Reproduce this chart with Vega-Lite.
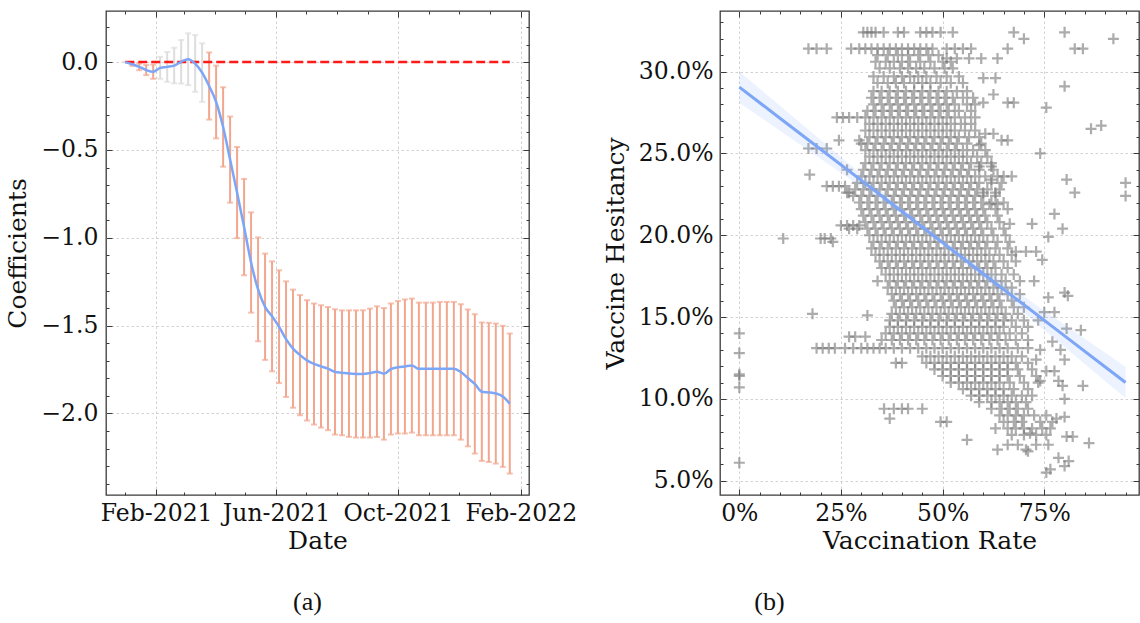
{
"$schema": "https://vega.github.io/schema/vega-lite/v6.json",
"background": "white",
"padding": {"left": 5, "top": 9, "right": 0, "bottom": 0},
"bounds": "flush",
"spacing": 191,
"config": {
  "view": {"stroke": "#3a3a3a", "strokeWidth": 1.3},
  "axis": {"labelFont": "DejaVu Serif", "labelFontSize": 23.5, "titleFont": "DejaVu Serif", "titleFontSize": 25, "titleFontWeight": "normal", "labelColor": "#111", "titleColor": "#111", "tickColor": "#3a3a3a", "tickWidth": 1, "domain": false, "gridColor": "#cccccc", "gridDash": [2.5, 2.5], "gridWidth": 0.9, "labelOverlap": false, "labelFlush": false, "labelBound": false}
},
"resolve": {"scale": {"x": "independent", "y": "independent"}},
"datasets": {
"coef": [
{"date":"2021-01-01","c":0,"lo":0,"hi":0,"sig":0},
{"date":"2021-01-08","c":-0.012,"lo":-0.021,"hi":-0.003,"sig":1},
{"date":"2021-01-15","c":-0.027,"lo":-0.046,"hi":-0.008,"sig":1},
{"date":"2021-01-22","c":-0.045,"lo":-0.074,"hi":-0.016,"sig":1},
{"date":"2021-01-29","c":-0.055,"lo":-0.095,"hi":-0.014,"sig":1},
{"date":"2021-02-05","c":-0.033,"lo":-0.095,"hi":0.030,"sig":0},
{"date":"2021-02-12","c":-0.027,"lo":-0.112,"hi":0.058,"sig":0},
{"date":"2021-02-19","c":-0.020,"lo":-0.121,"hi":0.082,"sig":0},
{"date":"2021-02-26","c":0.002,"lo":-0.122,"hi":0.126,"sig":0},
{"date":"2021-03-05","c":0.017,"lo":-0.131,"hi":0.164,"sig":0},
{"date":"2021-03-12","c":-0.008,"lo":-0.169,"hi":0.154,"sig":0},
{"date":"2021-03-19","c":-0.060,"lo":-0.226,"hi":0.107,"sig":0},
{"date":"2021-03-26","c":-0.136,"lo":-0.327,"hi":0.055,"sig":1},
{"date":"2021-04-02","c":-0.227,"lo":-0.434,"hi":-0.020,"sig":1},
{"date":"2021-04-09","c":-0.369,"lo":-0.595,"hi":-0.143,"sig":1},
{"date":"2021-04-16","c":-0.555,"lo":-0.800,"hi":-0.310,"sig":1},
{"date":"2021-04-23","c":-0.743,"lo":-1.002,"hi":-0.483,"sig":1},
{"date":"2021-04-30","c":-0.939,"lo":-1.213,"hi":-0.665,"sig":1},
{"date":"2021-05-07","c":-1.140,"lo":-1.426,"hi":-0.855,"sig":1},
{"date":"2021-05-14","c":-1.294,"lo":-1.589,"hi":-0.998,"sig":1},
{"date":"2021-05-21","c":-1.393,"lo":-1.695,"hi":-1.090,"sig":1},
{"date":"2021-05-28","c":-1.447,"lo":-1.760,"hi":-1.134,"sig":1},
{"date":"2021-06-04","c":-1.506,"lo":-1.827,"hi":-1.185,"sig":1},
{"date":"2021-06-11","c":-1.577,"lo":-1.906,"hi":-1.248,"sig":1},
{"date":"2021-06-18","c":-1.631,"lo":-1.967,"hi":-1.295,"sig":1},
{"date":"2021-06-25","c":-1.668,"lo":-2.010,"hi":-1.326,"sig":1},
{"date":"2021-07-02","c":-1.698,"lo":-2.040,"hi":-1.355,"sig":1},
{"date":"2021-07-09","c":-1.718,"lo":-2.063,"hi":-1.374,"sig":1},
{"date":"2021-07-16","c":-1.732,"lo":-2.080,"hi":-1.384,"sig":1},
{"date":"2021-07-23","c":-1.745,"lo":-2.095,"hi":-1.394,"sig":1},
{"date":"2021-07-30","c":-1.763,"lo":-2.120,"hi":-1.407,"sig":1},
{"date":"2021-08-06","c":-1.768,"lo":-2.124,"hi":-1.413,"sig":1},
{"date":"2021-08-13","c":-1.773,"lo":-2.133,"hi":-1.413,"sig":1},
{"date":"2021-08-20","c":-1.775,"lo":-2.137,"hi":-1.413,"sig":1},
{"date":"2021-08-27","c":-1.775,"lo":-2.137,"hi":-1.413,"sig":1},
{"date":"2021-09-03","c":-1.770,"lo":-2.137,"hi":-1.403,"sig":1},
{"date":"2021-09-10","c":-1.762,"lo":-2.134,"hi":-1.390,"sig":1},
{"date":"2021-09-17","c":-1.774,"lo":-2.149,"hi":-1.400,"sig":1},
{"date":"2021-09-24","c":-1.747,"lo":-2.120,"hi":-1.374,"sig":1},
{"date":"2021-10-01","c":-1.737,"lo":-2.114,"hi":-1.360,"sig":1},
{"date":"2021-10-08","c":-1.732,"lo":-2.114,"hi":-1.351,"sig":1},
{"date":"2021-10-15","c":-1.727,"lo":-2.109,"hi":-1.346,"sig":1},
{"date":"2021-10-22","c":-1.746,"lo":-2.124,"hi":-1.369,"sig":1},
{"date":"2021-10-29","c":-1.746,"lo":-2.124,"hi":-1.369,"sig":1},
{"date":"2021-11-05","c":-1.746,"lo":-2.124,"hi":-1.369,"sig":1},
{"date":"2021-11-12","c":-1.745,"lo":-2.124,"hi":-1.365,"sig":1},
{"date":"2021-11-19","c":-1.745,"lo":-2.124,"hi":-1.365,"sig":1},
{"date":"2021-11-26","c":-1.745,"lo":-2.124,"hi":-1.365,"sig":1},
{"date":"2021-12-03","c":-1.764,"lo":-2.149,"hi":-1.378,"sig":1},
{"date":"2021-12-10","c":-1.798,"lo":-2.187,"hi":-1.408,"sig":1},
{"date":"2021-12-17","c":-1.832,"lo":-2.228,"hi":-1.435,"sig":1},
{"date":"2021-12-24","c":-1.876,"lo":-2.270,"hi":-1.482,"sig":1},
{"date":"2021-12-31","c":-1.880,"lo":-2.276,"hi":-1.484,"sig":1},
{"date":"2022-01-07","c":-1.886,"lo":-2.285,"hi":-1.488,"sig":1},
{"date":"2022-01-14","c":-1.903,"lo":-2.304,"hi":-1.501,"sig":1},
{"date":"2022-01-21","c":-1.944,"lo":-2.342,"hi":-1.545,"sig":1}
],
"zero": [{"start":"2021-01-01","end":"2022-01-21","y":0}],
"fit": [
{"r":0,"m":0.2905,"lo":0.2810,"hi":0.3000},
{"r":0.1,"m":0.2715,"lo":0.2639,"hi":0.2791},
{"r":0.2,"m":0.2525,"lo":0.2468,"hi":0.2582},
{"r":0.3,"m":0.2335,"lo":0.2296,"hi":0.2374},
{"r":0.4,"m":0.2145,"lo":0.2121,"hi":0.2169},
{"r":0.47,"m":0.2012,"lo":0.1992,"hi":0.2032},
{"r":0.5,"m":0.1955,"lo":0.1934,"hi":0.1976},
{"r":0.6,"m":0.1765,"lo":0.1732,"hi":0.1798},
{"r":0.7,"m":0.1575,"lo":0.1525,"hi":0.1625},
{"r":0.8,"m":0.1385,"lo":0.1317,"hi":0.1453},
{"r":0.9,"m":0.1195,"lo":0.1108,"hi":0.1282},
{"r":0.95,"m":0.1100,"lo":0.1005,"hi":0.1195}
],
"pts": [
{"r":0.34,"h":0.31},{"r":0.365,"h":0.31},{"r":0.39,"h":0.31},{"r":0.415,"h":0.31},{"r":0.44,"h":0.31},{"r":0.465,"h":0.31},{"r":0.49,"h":0.31},
{"r":0.335,"h":0.306},{"r":0.36,"h":0.306},{"r":0.38,"h":0.306},{"r":0.40,"h":0.306},{"r":0.42,"h":0.306},{"r":0.445,"h":0.306},{"r":0.47,"h":0.306},{"r":0.50,"h":0.306},{"r":0.52,"h":0.306},
{"r":0.345,"h":0.302},{"r":0.37,"h":0.302},{"r":0.395,"h":0.302},{"r":0.415,"h":0.302},{"r":0.435,"h":0.302},{"r":0.455,"h":0.302},{"r":0.48,"h":0.302},{"r":0.505,"h":0.302},{"r":0.525,"h":0.302},
{"r":0.33,"h":0.297},{"r":0.355,"h":0.297},{"r":0.38,"h":0.297},{"r":0.40,"h":0.297},{"r":0.42,"h":0.297},{"r":0.44,"h":0.297},{"r":0.46,"h":0.297},{"r":0.485,"h":0.297},{"r":0.51,"h":0.297},{"r":0.54,"h":0.297},
{"r":0.34,"h":0.293},{"r":0.365,"h":0.293},{"r":0.385,"h":0.293},{"r":0.405,"h":0.293},{"r":0.43,"h":0.293},{"r":0.45,"h":0.293},{"r":0.47,"h":0.293},{"r":0.495,"h":0.293},{"r":0.52,"h":0.293},{"r":0.55,"h":0.293},
{"r":0.33,"h":0.288},{"r":0.35,"h":0.288},{"r":0.37,"h":0.288},{"r":0.39,"h":0.288},{"r":0.41,"h":0.288},{"r":0.43,"h":0.288},{"r":0.45,"h":0.288},{"r":0.47,"h":0.288},{"r":0.49,"h":0.288},{"r":0.51,"h":0.288},{"r":0.535,"h":0.288},{"r":0.56,"h":0.288},
{"r":0.325,"h":0.284},{"r":0.345,"h":0.284},{"r":0.365,"h":0.284},{"r":0.385,"h":0.284},{"r":0.405,"h":0.284},{"r":0.425,"h":0.284},{"r":0.445,"h":0.284},{"r":0.465,"h":0.284},{"r":0.485,"h":0.284},{"r":0.505,"h":0.284},{"r":0.525,"h":0.284},{"r":0.55,"h":0.284},{"r":0.575,"h":0.284},
{"r":0.33,"h":0.28},{"r":0.35,"h":0.28},{"r":0.37,"h":0.28},{"r":0.39,"h":0.28},{"r":0.41,"h":0.28},{"r":0.43,"h":0.28},{"r":0.45,"h":0.28},{"r":0.47,"h":0.28},{"r":0.49,"h":0.28},{"r":0.51,"h":0.28},{"r":0.53,"h":0.28},{"r":0.56,"h":0.28},{"r":0.58,"h":0.28},
{"r":0.315,"h":0.276},{"r":0.335,"h":0.276},{"r":0.355,"h":0.276},{"r":0.375,"h":0.276},{"r":0.395,"h":0.276},{"r":0.415,"h":0.276},{"r":0.435,"h":0.276},{"r":0.455,"h":0.276},{"r":0.475,"h":0.276},{"r":0.495,"h":0.276},{"r":0.515,"h":0.276},{"r":0.54,"h":0.276},{"r":0.57,"h":0.276},
{"r":0.24,"h":0.272},{"r":0.255,"h":0.272},{"r":0.27,"h":0.272},{"r":0.29,"h":0.272},{"r":0.31,"h":0.272},{"r":0.33,"h":0.272},{"r":0.35,"h":0.272},{"r":0.37,"h":0.272},{"r":0.39,"h":0.272},{"r":0.41,"h":0.272},{"r":0.43,"h":0.272},{"r":0.45,"h":0.272},{"r":0.47,"h":0.272},{"r":0.49,"h":0.272},{"r":0.51,"h":0.272},{"r":0.53,"h":0.272},{"r":0.555,"h":0.272},{"r":0.58,"h":0.272},
{"r":0.32,"h":0.268},{"r":0.34,"h":0.268},{"r":0.36,"h":0.268},{"r":0.38,"h":0.268},{"r":0.40,"h":0.268},{"r":0.42,"h":0.268},{"r":0.44,"h":0.268},{"r":0.46,"h":0.268},{"r":0.48,"h":0.268},{"r":0.50,"h":0.268},{"r":0.52,"h":0.268},{"r":0.545,"h":0.268},{"r":0.57,"h":0.268},
{"r":0.31,"h":0.264},{"r":0.33,"h":0.264},{"r":0.35,"h":0.264},{"r":0.37,"h":0.264},{"r":0.39,"h":0.264},{"r":0.41,"h":0.264},{"r":0.43,"h":0.264},{"r":0.45,"h":0.264},{"r":0.47,"h":0.264},{"r":0.49,"h":0.264},{"r":0.51,"h":0.264},{"r":0.53,"h":0.264},{"r":0.555,"h":0.264},{"r":0.58,"h":0.264},
{"r":0.32,"h":0.26},{"r":0.34,"h":0.26},{"r":0.36,"h":0.26},{"r":0.38,"h":0.26},{"r":0.40,"h":0.26},{"r":0.42,"h":0.26},{"r":0.44,"h":0.26},{"r":0.46,"h":0.26},{"r":0.48,"h":0.26},{"r":0.50,"h":0.26},{"r":0.52,"h":0.26},{"r":0.54,"h":0.26},{"r":0.565,"h":0.26},{"r":0.59,"h":0.26},
{"r":0.30,"h":0.256},{"r":0.315,"h":0.256},{"r":0.335,"h":0.256},{"r":0.355,"h":0.256},{"r":0.375,"h":0.256},{"r":0.395,"h":0.256},{"r":0.415,"h":0.256},{"r":0.435,"h":0.256},{"r":0.455,"h":0.256},{"r":0.475,"h":0.256},{"r":0.495,"h":0.256},{"r":0.515,"h":0.256},{"r":0.535,"h":0.256},{"r":0.56,"h":0.256},{"r":0.595,"h":0.256},
{"r":0.31,"h":0.252},{"r":0.33,"h":0.252},{"r":0.35,"h":0.252},{"r":0.37,"h":0.252},{"r":0.39,"h":0.252},{"r":0.41,"h":0.252},{"r":0.43,"h":0.252},{"r":0.45,"h":0.252},{"r":0.47,"h":0.252},{"r":0.49,"h":0.252},{"r":0.51,"h":0.252},{"r":0.53,"h":0.252},{"r":0.55,"h":0.252},{"r":0.575,"h":0.252},{"r":0.605,"h":0.252},
{"r":0.32,"h":0.248},{"r":0.34,"h":0.248},{"r":0.36,"h":0.248},{"r":0.38,"h":0.248},{"r":0.40,"h":0.248},{"r":0.42,"h":0.248},{"r":0.44,"h":0.248},{"r":0.46,"h":0.248},{"r":0.48,"h":0.248},{"r":0.50,"h":0.248},{"r":0.52,"h":0.248},{"r":0.54,"h":0.248},{"r":0.56,"h":0.248},{"r":0.585,"h":0.248},{"r":0.61,"h":0.248},
{"r":0.31,"h":0.244},{"r":0.33,"h":0.244},{"r":0.35,"h":0.244},{"r":0.37,"h":0.244},{"r":0.39,"h":0.244},{"r":0.41,"h":0.244},{"r":0.43,"h":0.244},{"r":0.45,"h":0.244},{"r":0.47,"h":0.244},{"r":0.49,"h":0.244},{"r":0.51,"h":0.244},{"r":0.53,"h":0.244},{"r":0.55,"h":0.244},{"r":0.57,"h":0.244},{"r":0.595,"h":0.244},{"r":0.62,"h":0.244},
{"r":0.305,"h":0.24},{"r":0.325,"h":0.24},{"r":0.345,"h":0.24},{"r":0.365,"h":0.24},{"r":0.385,"h":0.24},{"r":0.405,"h":0.24},{"r":0.425,"h":0.24},{"r":0.445,"h":0.24},{"r":0.465,"h":0.24},{"r":0.485,"h":0.24},{"r":0.505,"h":0.24},{"r":0.525,"h":0.24},{"r":0.545,"h":0.24},{"r":0.565,"h":0.24},{"r":0.59,"h":0.24},{"r":0.625,"h":0.24},
{"r":0.30,"h":0.236},{"r":0.32,"h":0.236},{"r":0.34,"h":0.236},{"r":0.36,"h":0.236},{"r":0.38,"h":0.236},{"r":0.40,"h":0.236},{"r":0.42,"h":0.236},{"r":0.44,"h":0.236},{"r":0.46,"h":0.236},{"r":0.48,"h":0.236},{"r":0.50,"h":0.236},{"r":0.52,"h":0.236},{"r":0.54,"h":0.236},{"r":0.56,"h":0.236},{"r":0.58,"h":0.236},{"r":0.605,"h":0.236},{"r":0.635,"h":0.236},
{"r":0.29,"h":0.232},{"r":0.31,"h":0.232},{"r":0.33,"h":0.232},{"r":0.35,"h":0.232},{"r":0.37,"h":0.232},{"r":0.39,"h":0.232},{"r":0.41,"h":0.232},{"r":0.43,"h":0.232},{"r":0.45,"h":0.232},{"r":0.47,"h":0.232},{"r":0.49,"h":0.232},{"r":0.51,"h":0.232},{"r":0.53,"h":0.232},{"r":0.55,"h":0.232},{"r":0.57,"h":0.232},{"r":0.59,"h":0.232},{"r":0.62,"h":0.232},{"r":0.645,"h":0.232},
{"r":0.285,"h":0.228},{"r":0.305,"h":0.228},{"r":0.325,"h":0.228},{"r":0.345,"h":0.228},{"r":0.365,"h":0.228},{"r":0.385,"h":0.228},{"r":0.405,"h":0.228},{"r":0.425,"h":0.228},{"r":0.445,"h":0.228},{"r":0.465,"h":0.228},{"r":0.485,"h":0.228},{"r":0.505,"h":0.228},{"r":0.525,"h":0.228},{"r":0.545,"h":0.228},{"r":0.565,"h":0.228},{"r":0.585,"h":0.228},{"r":0.61,"h":0.228},{"r":0.64,"h":0.228},
{"r":0.28,"h":0.224},{"r":0.30,"h":0.224},{"r":0.32,"h":0.224},{"r":0.34,"h":0.224},{"r":0.36,"h":0.224},{"r":0.38,"h":0.224},{"r":0.40,"h":0.224},{"r":0.42,"h":0.224},{"r":0.44,"h":0.224},{"r":0.46,"h":0.224},{"r":0.48,"h":0.224},{"r":0.50,"h":0.224},{"r":0.52,"h":0.224},{"r":0.54,"h":0.224},{"r":0.56,"h":0.224},{"r":0.58,"h":0.224},{"r":0.60,"h":0.224},{"r":0.63,"h":0.224},
{"r":0.295,"h":0.22},{"r":0.315,"h":0.22},{"r":0.335,"h":0.22},{"r":0.355,"h":0.22},{"r":0.375,"h":0.22},{"r":0.395,"h":0.22},{"r":0.415,"h":0.22},{"r":0.435,"h":0.22},{"r":0.455,"h":0.22},{"r":0.475,"h":0.22},{"r":0.495,"h":0.22},{"r":0.515,"h":0.22},{"r":0.535,"h":0.22},{"r":0.555,"h":0.22},{"r":0.575,"h":0.22},{"r":0.595,"h":0.22},{"r":0.62,"h":0.22},{"r":0.65,"h":0.22},
{"r":0.30,"h":0.216},{"r":0.32,"h":0.216},{"r":0.34,"h":0.216},{"r":0.36,"h":0.216},{"r":0.38,"h":0.216},{"r":0.40,"h":0.216},{"r":0.42,"h":0.216},{"r":0.44,"h":0.216},{"r":0.46,"h":0.216},{"r":0.48,"h":0.216},{"r":0.50,"h":0.216},{"r":0.52,"h":0.216},{"r":0.54,"h":0.216},{"r":0.56,"h":0.216},{"r":0.58,"h":0.216},{"r":0.60,"h":0.216},{"r":0.63,"h":0.216},{"r":0.66,"h":0.216},
{"r":0.305,"h":0.212},{"r":0.325,"h":0.212},{"r":0.345,"h":0.212},{"r":0.365,"h":0.212},{"r":0.385,"h":0.212},{"r":0.405,"h":0.212},{"r":0.425,"h":0.212},{"r":0.445,"h":0.212},{"r":0.465,"h":0.212},{"r":0.485,"h":0.212},{"r":0.505,"h":0.212},{"r":0.525,"h":0.212},{"r":0.545,"h":0.212},{"r":0.565,"h":0.212},{"r":0.585,"h":0.212},{"r":0.605,"h":0.212},{"r":0.635,"h":0.212},
{"r":0.31,"h":0.208},{"r":0.33,"h":0.208},{"r":0.35,"h":0.208},{"r":0.37,"h":0.208},{"r":0.39,"h":0.208},{"r":0.41,"h":0.208},{"r":0.43,"h":0.208},{"r":0.45,"h":0.208},{"r":0.47,"h":0.208},{"r":0.49,"h":0.208},{"r":0.51,"h":0.208},{"r":0.53,"h":0.208},{"r":0.55,"h":0.208},{"r":0.57,"h":0.208},{"r":0.59,"h":0.208},{"r":0.61,"h":0.208},{"r":0.64,"h":0.208},
{"r":0.27,"h":0.204},{"r":0.29,"h":0.204},{"r":0.315,"h":0.204},{"r":0.335,"h":0.204},{"r":0.355,"h":0.204},{"r":0.375,"h":0.204},{"r":0.395,"h":0.204},{"r":0.415,"h":0.204},{"r":0.435,"h":0.204},{"r":0.455,"h":0.204},{"r":0.475,"h":0.204},{"r":0.495,"h":0.204},{"r":0.515,"h":0.204},{"r":0.535,"h":0.204},{"r":0.555,"h":0.204},{"r":0.575,"h":0.204},{"r":0.595,"h":0.204},{"r":0.62,"h":0.204},{"r":0.65,"h":0.204},
{"r":0.32,"h":0.2},{"r":0.34,"h":0.2},{"r":0.36,"h":0.2},{"r":0.38,"h":0.2},{"r":0.40,"h":0.2},{"r":0.42,"h":0.2},{"r":0.44,"h":0.2},{"r":0.46,"h":0.2},{"r":0.48,"h":0.2},{"r":0.50,"h":0.2},{"r":0.52,"h":0.2},{"r":0.54,"h":0.2},{"r":0.56,"h":0.2},{"r":0.58,"h":0.2},{"r":0.60,"h":0.2},{"r":0.625,"h":0.2},{"r":0.655,"h":0.2},
{"r":0.33,"h":0.196},{"r":0.35,"h":0.196},{"r":0.37,"h":0.196},{"r":0.39,"h":0.196},{"r":0.41,"h":0.196},{"r":0.43,"h":0.196},{"r":0.45,"h":0.196},{"r":0.47,"h":0.196},{"r":0.49,"h":0.196},{"r":0.51,"h":0.196},{"r":0.53,"h":0.196},{"r":0.55,"h":0.196},{"r":0.57,"h":0.196},{"r":0.59,"h":0.196},{"r":0.61,"h":0.196},{"r":0.635,"h":0.196},{"r":0.665,"h":0.196},
{"r":0.325,"h":0.192},{"r":0.345,"h":0.192},{"r":0.365,"h":0.192},{"r":0.385,"h":0.192},{"r":0.405,"h":0.192},{"r":0.425,"h":0.192},{"r":0.445,"h":0.192},{"r":0.465,"h":0.192},{"r":0.485,"h":0.192},{"r":0.505,"h":0.192},{"r":0.525,"h":0.192},{"r":0.545,"h":0.192},{"r":0.565,"h":0.192},{"r":0.585,"h":0.192},{"r":0.605,"h":0.192},{"r":0.63,"h":0.192},{"r":0.66,"h":0.192},
{"r":0.335,"h":0.188},{"r":0.355,"h":0.188},{"r":0.375,"h":0.188},{"r":0.395,"h":0.188},{"r":0.415,"h":0.188},{"r":0.435,"h":0.188},{"r":0.455,"h":0.188},{"r":0.475,"h":0.188},{"r":0.495,"h":0.188},{"r":0.515,"h":0.188},{"r":0.535,"h":0.188},{"r":0.555,"h":0.188},{"r":0.575,"h":0.188},{"r":0.595,"h":0.188},{"r":0.615,"h":0.188},{"r":0.64,"h":0.188},{"r":0.67,"h":0.188},
{"r":0.345,"h":0.184},{"r":0.365,"h":0.184},{"r":0.385,"h":0.184},{"r":0.405,"h":0.184},{"r":0.425,"h":0.184},{"r":0.445,"h":0.184},{"r":0.465,"h":0.184},{"r":0.485,"h":0.184},{"r":0.505,"h":0.184},{"r":0.525,"h":0.184},{"r":0.545,"h":0.184},{"r":0.565,"h":0.184},{"r":0.585,"h":0.184},{"r":0.605,"h":0.184},{"r":0.625,"h":0.184},{"r":0.65,"h":0.184},{"r":0.68,"h":0.184},
{"r":0.35,"h":0.18},{"r":0.37,"h":0.18},{"r":0.39,"h":0.18},{"r":0.41,"h":0.18},{"r":0.43,"h":0.18},{"r":0.45,"h":0.18},{"r":0.47,"h":0.18},{"r":0.49,"h":0.18},{"r":0.51,"h":0.18},{"r":0.53,"h":0.18},{"r":0.55,"h":0.18},{"r":0.57,"h":0.18},{"r":0.59,"h":0.18},{"r":0.61,"h":0.18},{"r":0.63,"h":0.18},{"r":0.66,"h":0.18},
{"r":0.36,"h":0.176},{"r":0.38,"h":0.176},{"r":0.40,"h":0.176},{"r":0.42,"h":0.176},{"r":0.44,"h":0.176},{"r":0.46,"h":0.176},{"r":0.48,"h":0.176},{"r":0.50,"h":0.176},{"r":0.52,"h":0.176},{"r":0.54,"h":0.176},{"r":0.56,"h":0.176},{"r":0.58,"h":0.176},{"r":0.60,"h":0.176},{"r":0.62,"h":0.176},{"r":0.645,"h":0.176},{"r":0.675,"h":0.176},
{"r":0.34,"h":0.172},{"r":0.37,"h":0.172},{"r":0.39,"h":0.172},{"r":0.41,"h":0.172},{"r":0.43,"h":0.172},{"r":0.45,"h":0.172},{"r":0.47,"h":0.172},{"r":0.49,"h":0.172},{"r":0.51,"h":0.172},{"r":0.53,"h":0.172},{"r":0.55,"h":0.172},{"r":0.57,"h":0.172},{"r":0.59,"h":0.172},{"r":0.61,"h":0.172},{"r":0.63,"h":0.172},{"r":0.655,"h":0.172},{"r":0.69,"h":0.172},
{"r":0.365,"h":0.168},{"r":0.385,"h":0.168},{"r":0.405,"h":0.168},{"r":0.425,"h":0.168},{"r":0.445,"h":0.168},{"r":0.465,"h":0.168},{"r":0.485,"h":0.168},{"r":0.505,"h":0.168},{"r":0.525,"h":0.168},{"r":0.545,"h":0.168},{"r":0.565,"h":0.168},{"r":0.585,"h":0.168},{"r":0.605,"h":0.168},{"r":0.625,"h":0.168},{"r":0.645,"h":0.168},{"r":0.67,"h":0.168},
{"r":0.375,"h":0.164},{"r":0.395,"h":0.164},{"r":0.415,"h":0.164},{"r":0.435,"h":0.164},{"r":0.455,"h":0.164},{"r":0.475,"h":0.164},{"r":0.495,"h":0.164},{"r":0.515,"h":0.164},{"r":0.535,"h":0.164},{"r":0.555,"h":0.164},{"r":0.575,"h":0.164},{"r":0.595,"h":0.164},{"r":0.615,"h":0.164},{"r":0.635,"h":0.164},{"r":0.66,"h":0.164},{"r":0.69,"h":0.164},
{"r":0.38,"h":0.16},{"r":0.40,"h":0.16},{"r":0.42,"h":0.16},{"r":0.44,"h":0.16},{"r":0.46,"h":0.16},{"r":0.48,"h":0.16},{"r":0.50,"h":0.16},{"r":0.52,"h":0.16},{"r":0.54,"h":0.16},{"r":0.56,"h":0.16},{"r":0.58,"h":0.16},{"r":0.60,"h":0.16},{"r":0.62,"h":0.16},{"r":0.64,"h":0.16},{"r":0.67,"h":0.16},
{"r":0.385,"h":0.156},{"r":0.405,"h":0.156},{"r":0.425,"h":0.156},{"r":0.445,"h":0.156},{"r":0.465,"h":0.156},{"r":0.485,"h":0.156},{"r":0.505,"h":0.156},{"r":0.525,"h":0.156},{"r":0.545,"h":0.156},{"r":0.565,"h":0.156},{"r":0.585,"h":0.156},{"r":0.605,"h":0.156},{"r":0.625,"h":0.156},{"r":0.645,"h":0.156},{"r":0.675,"h":0.156},{"r":0.70,"h":0.156},
{"r":0.375,"h":0.152},{"r":0.395,"h":0.152},{"r":0.415,"h":0.152},{"r":0.435,"h":0.152},{"r":0.455,"h":0.152},{"r":0.475,"h":0.152},{"r":0.495,"h":0.152},{"r":0.515,"h":0.152},{"r":0.535,"h":0.152},{"r":0.555,"h":0.152},{"r":0.575,"h":0.152},{"r":0.595,"h":0.152},{"r":0.615,"h":0.152},{"r":0.635,"h":0.152},{"r":0.655,"h":0.152},{"r":0.685,"h":0.152},
{"r":0.37,"h":0.148},{"r":0.39,"h":0.148},{"r":0.41,"h":0.148},{"r":0.43,"h":0.148},{"r":0.45,"h":0.148},{"r":0.47,"h":0.148},{"r":0.49,"h":0.148},{"r":0.51,"h":0.148},{"r":0.53,"h":0.148},{"r":0.55,"h":0.148},{"r":0.57,"h":0.148},{"r":0.59,"h":0.148},{"r":0.61,"h":0.148},{"r":0.63,"h":0.148},{"r":0.65,"h":0.148},{"r":0.67,"h":0.148},{"r":0.70,"h":0.148},
{"r":0.37,"h":0.144},{"r":0.39,"h":0.144},{"r":0.41,"h":0.144},{"r":0.43,"h":0.144},{"r":0.45,"h":0.144},{"r":0.47,"h":0.144},{"r":0.49,"h":0.144},{"r":0.51,"h":0.144},{"r":0.53,"h":0.144},{"r":0.55,"h":0.144},{"r":0.57,"h":0.144},{"r":0.59,"h":0.144},{"r":0.61,"h":0.144},{"r":0.63,"h":0.144},{"r":0.65,"h":0.144},{"r":0.68,"h":0.144},{"r":0.71,"h":0.144},
{"r":0.36,"h":0.14},{"r":0.38,"h":0.14},{"r":0.40,"h":0.14},{"r":0.42,"h":0.14},{"r":0.44,"h":0.14},{"r":0.46,"h":0.14},{"r":0.48,"h":0.14},{"r":0.50,"h":0.14},{"r":0.52,"h":0.14},{"r":0.54,"h":0.14},{"r":0.56,"h":0.14},{"r":0.58,"h":0.14},{"r":0.60,"h":0.14},{"r":0.62,"h":0.14},{"r":0.64,"h":0.14},{"r":0.665,"h":0.14},{"r":0.695,"h":0.14},
{"r":0.35,"h":0.136},{"r":0.375,"h":0.136},{"r":0.395,"h":0.136},{"r":0.415,"h":0.136},{"r":0.435,"h":0.136},{"r":0.455,"h":0.136},{"r":0.475,"h":0.136},{"r":0.495,"h":0.136},{"r":0.515,"h":0.136},{"r":0.535,"h":0.136},{"r":0.555,"h":0.136},{"r":0.575,"h":0.136},{"r":0.595,"h":0.136},{"r":0.615,"h":0.136},{"r":0.635,"h":0.136},{"r":0.655,"h":0.136},{"r":0.68,"h":0.136},{"r":0.71,"h":0.136},
{"r":0.19,"h":0.131},{"r":0.205,"h":0.131},{"r":0.22,"h":0.131},{"r":0.235,"h":0.131},{"r":0.26,"h":0.131},{"r":0.28,"h":0.131},{"r":0.30,"h":0.131},{"r":0.315,"h":0.131},{"r":0.33,"h":0.131},{"r":0.345,"h":0.131},{"r":0.36,"h":0.131},{"r":0.38,"h":0.131},{"r":0.40,"h":0.131},{"r":0.42,"h":0.131},{"r":0.44,"h":0.131},{"r":0.46,"h":0.131},{"r":0.48,"h":0.131},{"r":0.50,"h":0.131},{"r":0.52,"h":0.131},{"r":0.54,"h":0.131},{"r":0.56,"h":0.131},{"r":0.58,"h":0.131},{"r":0.60,"h":0.131},{"r":0.62,"h":0.131},{"r":0.64,"h":0.131},{"r":0.66,"h":0.131},{"r":0.685,"h":0.131},{"r":0.71,"h":0.131},
{"r":0.45,"h":0.126},{"r":0.47,"h":0.126},{"r":0.49,"h":0.126},{"r":0.51,"h":0.126},{"r":0.53,"h":0.126},{"r":0.55,"h":0.126},{"r":0.57,"h":0.126},{"r":0.59,"h":0.126},{"r":0.61,"h":0.126},{"r":0.63,"h":0.126},{"r":0.65,"h":0.126},{"r":0.67,"h":0.126},{"r":0.695,"h":0.126},
{"r":0.385,"h":0.122},{"r":0.40,"h":0.122},{"r":0.46,"h":0.122},{"r":0.48,"h":0.122},{"r":0.50,"h":0.122},{"r":0.52,"h":0.122},{"r":0.54,"h":0.122},{"r":0.56,"h":0.122},{"r":0.58,"h":0.122},{"r":0.60,"h":0.122},{"r":0.62,"h":0.122},{"r":0.64,"h":0.122},{"r":0.66,"h":0.122},{"r":0.68,"h":0.122},{"r":0.71,"h":0.122},
{"r":0.48,"h":0.118},{"r":0.50,"h":0.118},{"r":0.52,"h":0.118},{"r":0.54,"h":0.118},{"r":0.56,"h":0.118},{"r":0.58,"h":0.118},{"r":0.60,"h":0.118},{"r":0.62,"h":0.118},{"r":0.64,"h":0.118},{"r":0.66,"h":0.118},{"r":0.685,"h":0.118},{"r":0.72,"h":0.118},
{"r":0.50,"h":0.114},{"r":0.52,"h":0.114},{"r":0.54,"h":0.114},{"r":0.56,"h":0.114},{"r":0.58,"h":0.114},{"r":0.60,"h":0.114},{"r":0.62,"h":0.114},{"r":0.64,"h":0.114},{"r":0.66,"h":0.114},{"r":0.69,"h":0.114},{"r":0.73,"h":0.114},
{"r":0.52,"h":0.11},{"r":0.54,"h":0.11},{"r":0.56,"h":0.11},{"r":0.58,"h":0.11},{"r":0.60,"h":0.11},{"r":0.62,"h":0.11},{"r":0.64,"h":0.11},{"r":0.665,"h":0.11},{"r":0.70,"h":0.11},{"r":0.735,"h":0.11},
{"r":0.55,"h":0.106},{"r":0.57,"h":0.106},{"r":0.59,"h":0.106},{"r":0.61,"h":0.106},{"r":0.63,"h":0.106},{"r":0.65,"h":0.106},{"r":0.675,"h":0.106},{"r":0.71,"h":0.106},
{"r":0.57,"h":0.102},{"r":0.59,"h":0.102},{"r":0.61,"h":0.102},{"r":0.63,"h":0.102},{"r":0.65,"h":0.102},{"r":0.67,"h":0.102},{"r":0.695,"h":0.102},{"r":0.72,"h":0.102},
{"r":0.59,"h":0.098},{"r":0.62,"h":0.098},{"r":0.64,"h":0.098},{"r":0.66,"h":0.098},{"r":0.68,"h":0.098},{"r":0.705,"h":0.098},
{"r":0.62,"h":0.094},{"r":0.645,"h":0.094},{"r":0.665,"h":0.094},{"r":0.685,"h":0.094},{"r":0.71,"h":0.094},
{"r":0.64,"h":0.09},{"r":0.66,"h":0.09},{"r":0.68,"h":0.09},{"r":0.70,"h":0.09},{"r":0.725,"h":0.09},{"r":0.755,"h":0.09},
{"r":0.65,"h":0.086},{"r":0.675,"h":0.086},{"r":0.695,"h":0.086},{"r":0.74,"h":0.086},{"r":0.77,"h":0.086},
{"r":0.63,"h":0.082},{"r":0.66,"h":0.082},{"r":0.72,"h":0.082},{"r":0.745,"h":0.082},{"r":0.765,"h":0.082},
{"r":0.67,"h":0.078},{"r":0.70,"h":0.078},{"r":0.73,"h":0.078},{"r":0.755,"h":0.078},
{"r":0.66,"h":0.072},{"r":0.685,"h":0.072},{"r":0.73,"h":0.072},{"r":0.76,"h":0.072},
{"r":0.71,"h":0.068},
{"r":0.305,"h":0.324},{"r":0.315,"h":0.324},{"r":0.325,"h":0.324},{"r":0.335,"h":0.324},{"r":0.355,"h":0.324},{"r":0.39,"h":0.324},{"r":0.405,"h":0.324},{"r":0.445,"h":0.324},{"r":0.46,"h":0.324},{"r":0.475,"h":0.324},{"r":0.495,"h":0.324},{"r":0.525,"h":0.324},{"r":0.675,"h":0.324},{"r":0.80,"h":0.324},
{"r":0.70,"h":0.32},{"r":0.92,"h":0.32},
{"r":0.17,"h":0.314},{"r":0.19,"h":0.314},{"r":0.215,"h":0.314},{"r":0.275,"h":0.314},{"r":0.295,"h":0.314},{"r":0.31,"h":0.314},{"r":0.325,"h":0.314},{"r":0.34,"h":0.314},{"r":0.355,"h":0.314},{"r":0.37,"h":0.314},{"r":0.385,"h":0.314},{"r":0.40,"h":0.314},{"r":0.415,"h":0.314},{"r":0.43,"h":0.314},{"r":0.445,"h":0.314},{"r":0.46,"h":0.314},{"r":0.475,"h":0.314},{"r":0.51,"h":0.314},{"r":0.53,"h":0.314},{"r":0.55,"h":0.314},{"r":0.57,"h":0.314},{"r":0.66,"h":0.314},{"r":0.825,"h":0.314},{"r":0.845,"h":0.314},
{"r":0.51,"h":0.308},{"r":0.535,"h":0.308},{"r":0.565,"h":0.308},{"r":0.595,"h":0.308},{"r":0.635,"h":0.308},
{"r":0.80,"h":0.291},{"r":0.60,"h":0.296},{"r":0.63,"h":0.296},{"r":0.625,"h":0.286},{"r":0.60,"h":0.281},{"r":0.66,"h":0.281},{"r":0.675,"h":0.281},{"r":0.755,"h":0.278},
{"r":0.865,"h":0.265},{"r":0.89,"h":0.267},{"r":0.605,"h":0.262},{"r":0.625,"h":0.262},{"r":0.645,"h":0.258},{"r":0.66,"h":0.258},{"r":0.59,"h":0.255},{"r":0.74,"h":0.25},
{"r":0.59,"h":0.242},{"r":0.62,"h":0.242},{"r":0.65,"h":0.236},{"r":0.67,"h":0.236},{"r":0.805,"h":0.234},{"r":0.62,"h":0.234},{"r":0.95,"h":0.232},{"r":0.825,"h":0.226},{"r":0.60,"h":0.226},{"r":0.63,"h":0.226},{"r":0.95,"h":0.224},
{"r":0.615,"h":0.219},{"r":0.635,"h":0.219},{"r":0.775,"h":0.213},{"r":0.665,"h":0.207},{"r":0.72,"h":0.207},{"r":0.795,"h":0.204},{"r":0.76,"h":0.199},
{"r":0.68,"h":0.19},{"r":0.705,"h":0.19},{"r":0.73,"h":0.19},{"r":0.745,"h":0.185},{"r":0.725,"h":0.172},{"r":0.80,"h":0.165},{"r":0.808,"h":0.163},{"r":0.76,"h":0.162},
{"r":0.75,"h":0.153},{"r":0.775,"h":0.153},{"r":0.735,"h":0.148},{"r":0.805,"h":0.143},{"r":0.84,"h":0.142},{"r":0.77,"h":0.135},{"r":0.74,"h":0.13},{"r":0.79,"h":0.13},
{"r":0.73,"h":0.124},{"r":0.80,"h":0.124},{"r":0.755,"h":0.117},{"r":0.775,"h":0.117},{"r":0.74,"h":0.111},{"r":0.785,"h":0.111},{"r":0.845,"h":0.108},{"r":0.795,"h":0.108},{"r":0.80,"h":0.1},
{"r":0.356,"h":0.094},{"r":0.38,"h":0.094},{"r":0.40,"h":0.094},{"r":0.415,"h":0.094},{"r":0.45,"h":0.094},{"r":0.37,"h":0.088},{"r":0.78,"h":0.088},{"r":0.80,"h":0.089},
{"r":0.495,"h":0.086},{"r":0.51,"h":0.086},{"r":0.68,"h":0.082},{"r":0.70,"h":0.082},{"r":0.715,"h":0.079},{"r":0.805,"h":0.077},{"r":0.82,"h":0.077},{"r":0.56,"h":0.075},{"r":0.86,"h":0.073},
{"r":0.705,"h":0.069},{"r":0.635,"h":0.069},{"r":0.785,"h":0.064},{"r":0.81,"h":0.062},{"r":0.80,"h":0.059},{"r":0.765,"h":0.057},{"r":0.755,"h":0.055},
{"r":0.173,"h":0.237},{"r":0.215,"h":0.23},{"r":0.23,"h":0.23},{"r":0.245,"h":0.23},{"r":0.26,"h":0.23},{"r":0.265,"h":0.226},{"r":0.27,"h":0.226},
{"r":0.245,"h":0.258},{"r":0.295,"h":0.258},{"r":0.17,"h":0.253},{"r":0.19,"h":0.253},{"r":0.215,"h":0.253},{"r":0.265,"h":0.24},
{"r":0.108,"h":0.198},{"r":0.20,"h":0.198},{"r":0.21,"h":0.198},{"r":0.225,"h":0.198},{"r":0.23,"h":0.196},
{"r":0.25,"h":0.206},{"r":0.265,"h":0.206},{"r":0.28,"h":0.206},{"r":0.295,"h":0.206},
{"r":0.18,"h":0.152},{"r":0.27,"h":0.138},{"r":0.285,"h":0.138},{"r":0.31,"h":0.138},{"r":0.315,"h":0.151},
{"r":0,"h":0.14},{"r":0,"h":0.128},{"r":0,"h":0.115},{"r":0,"h":0.114},{"r":0,"h":0.107},{"r":0,"h":0.061}
]
},
"hconcat": [
{
  "width": 423, "height": 484,
  "title": {"text": "(a)", "orient": "bottom", "frame": "group", "anchor": "middle", "dx": -10, "offset": 35, "font": "Liberation Serif", "fontSize": 26, "fontWeight": "normal", "color": "#111"},
  "resolve": {"axis": {"x": "independent", "y": "independent"}},
  "layer": [
    {
      "data": {"name": "coef"},
      "mark": {"type": "rule", "strokeWidth": 2},
      "encoding": {
        "x": {"field": "date", "type": "temporal",
          "scale": {"type": "utc", "domain": [{"year": 2020, "month": 12, "date": 12, "hours": 18, "utc": true}, {"year": 2022, "month": 2, "date": 9, "hours": 6, "utc": true}]},
          "axis": {"orient": "bottom", "title": "Date",
            "values": [{"year":2021,"month":1,"date":1,"utc":true},{"year":2021,"month":2,"date":1,"utc":true},{"year":2021,"month":3,"date":1,"utc":true},{"year":2021,"month":4,"date":1,"utc":true},{"year":2021,"month":5,"date":1,"utc":true},{"year":2021,"month":6,"date":1,"utc":true},{"year":2021,"month":7,"date":1,"utc":true},{"year":2021,"month":8,"date":1,"utc":true},{"year":2021,"month":9,"date":1,"utc":true},{"year":2021,"month":10,"date":1,"utc":true},{"year":2021,"month":11,"date":1,"utc":true},{"year":2021,"month":12,"date":1,"utc":true},{"year":2022,"month":1,"date":1,"utc":true},{"year":2022,"month":2,"date":1,"utc":true}],
            "labelExpr": "indexof([1,5,9], utcmonth(datum.value)) >= 0 ? utcFormat(datum.value, '%b-%Y') : ''",
            "tickSize": {"condition": {"test": "indexof([1,5,9], utcmonth(datum.value)) >= 0", "value": -6}, "value": -3},
            "gridOpacity": {"condition": {"test": "indexof([1,5,9], utcmonth(datum.value)) >= 0", "value": 1}, "value": 0},
            "grid": true, "labelPadding": 12, "titlePadding": 1}},
        "y": {"field": "lo", "type": "quantitative",
          "scale": {"domain": [-2.464, 0.291], "nice": false, "zero": false},
          "axis": {"orient": "left", "title": "Coefficients",
            "values": [-2.4,-2.3,-2.2,-2.1,-2.0,-1.9,-1.8,-1.7,-1.6,-1.5,-1.4,-1.3,-1.2,-1.1,-1.0,-0.9,-0.8,-0.7,-0.6,-0.5,-0.4,-0.3,-0.2,-0.1,0,0.1,0.2],
            "labelExpr": "abs(datum.value*2 - round(datum.value*2)) < 0.001 ? format(datum.value, '.1f') : ''",
            "tickSize": {"condition": {"test": "abs(datum.value*2 - round(datum.value*2)) < 0.001", "value": -6}, "value": -3},
            "gridOpacity": {"condition": {"test": "abs(datum.value*2 - round(datum.value*2)) < 0.001", "value": 1}, "value": 0},
            "grid": true, "labelPadding": 14, "titlePadding": 10}},
        "y2": {"field": "hi"},
        "color": {"condition": {"test": "datum.sig == 1", "value": "#f2a68e"}, "value": "#dddddd"}
      }
    },
    {
      "data": {"name": "coef"},
      "mark": {"type": "tick", "orient": "horizontal", "size": 6, "thickness": 2},
      "encoding": {
        "x": {"field": "date", "type": "temporal", "axis": null},
        "y": {"field": "lo", "type": "quantitative", "axis": null},
        "color": {"condition": {"test": "datum.sig == 1", "value": "#f2a68e"}, "value": "#dddddd"}
      }
    },
    {
      "data": {"name": "coef"},
      "mark": {"type": "tick", "orient": "horizontal", "size": 6, "thickness": 2},
      "encoding": {
        "x": {"field": "date", "type": "temporal", "axis": null},
        "y": {"field": "hi", "type": "quantitative", "axis": null},
        "color": {"condition": {"test": "datum.sig == 1", "value": "#f2a68e"}, "value": "#dddddd"}
      }
    },
    {
      "data": {"name": "zero"},
      "mark": {"type": "rule", "color": "#ff1a1a", "strokeWidth": 2.5, "strokeDash": [9, 4]},
      "encoding": {
        "x": {"field": "start", "type": "temporal",
          "scale": {"type": "utc", "domain": [{"year": 2020, "month": 12, "date": 12, "hours": 18, "utc": true}, {"year": 2022, "month": 2, "date": 9, "hours": 6, "utc": true}]},
          "axis": {"orient": "top", "title": null, "labels": false, "grid": false,
            "values": [{"year":2021,"month":1,"date":1,"utc":true},{"year":2021,"month":2,"date":1,"utc":true},{"year":2021,"month":3,"date":1,"utc":true},{"year":2021,"month":4,"date":1,"utc":true},{"year":2021,"month":5,"date":1,"utc":true},{"year":2021,"month":6,"date":1,"utc":true},{"year":2021,"month":7,"date":1,"utc":true},{"year":2021,"month":8,"date":1,"utc":true},{"year":2021,"month":9,"date":1,"utc":true},{"year":2021,"month":10,"date":1,"utc":true},{"year":2021,"month":11,"date":1,"utc":true},{"year":2021,"month":12,"date":1,"utc":true},{"year":2022,"month":1,"date":1,"utc":true},{"year":2022,"month":2,"date":1,"utc":true}],
            "tickSize": {"condition": {"test": "indexof([1,5,9], utcmonth(datum.value)) >= 0", "value": -6}, "value": -3}}},
        "x2": {"field": "end"},
        "y": {"field": "y", "type": "quantitative",
          "scale": {"domain": [-2.464, 0.291], "nice": false, "zero": false},
          "axis": {"orient": "right", "title": null, "labels": false, "grid": false,
            "values": [-2.4,-2.3,-2.2,-2.1,-2.0,-1.9,-1.8,-1.7,-1.6,-1.5,-1.4,-1.3,-1.2,-1.1,-1.0,-0.9,-0.8,-0.7,-0.6,-0.5,-0.4,-0.3,-0.2,-0.1,0,0.1,0.2],
            "tickSize": {"condition": {"test": "abs(datum.value*2 - round(datum.value*2)) < 0.001", "value": -6}, "value": -3}}}
      }
    },
    {
      "data": {"name": "coef"},
      "mark": {"type": "line", "color": "#7ea6f6", "strokeWidth": 2.5, "interpolate": "monotone"},
      "encoding": {
        "x": {"field": "date", "type": "temporal", "axis": null},
        "y": {"field": "c", "type": "quantitative", "axis": null}
      }
    }
  ]
},
{
  "width": 419, "height": 484,
  "title": {"text": "(b)", "orient": "bottom", "frame": "group", "anchor": "middle", "dx": -160, "offset": 35, "font": "Liberation Serif", "fontSize": 26, "fontWeight": "normal", "color": "#111"},
  "resolve": {"axis": {"x": "independent", "y": "independent"}},
  "layer": [
    {
      "data": {"name": "pts"},
      "mark": {"type": "point", "shape": "M-1,0H1M0,-1V1", "filled": false, "size": 121, "strokeWidth": 2.2, "color": "#7a7a7a", "opacity": 0.62},
      "encoding": {
        "x": {"field": "r", "type": "quantitative",
          "scale": {"domain": [-0.0475, 0.983], "nice": false, "zero": false},
          "axis": {"orient": "bottom", "title": "Vaccination Rate",
            "values": [0,0.05,0.1,0.15,0.2,0.25,0.3,0.35,0.4,0.45,0.5,0.55,0.6,0.65,0.7,0.75,0.8,0.85,0.9,0.95],
            "labelExpr": "abs(datum.value*4 - round(datum.value*4)) < 0.001 ? format(datum.value, '.0%') : ''",
            "tickSize": {"condition": {"test": "abs(datum.value*4 - round(datum.value*4)) < 0.001", "value": -6}, "value": -3},
            "gridOpacity": {"condition": {"test": "abs(datum.value*4 - round(datum.value*4)) < 0.001", "value": 1}, "value": 0},
            "grid": true, "labelPadding": 12, "titlePadding": 1}},
        "y": {"field": "h", "type": "quantitative",
          "scale": {"domain": [0.0413, 0.337], "nice": false, "zero": false},
          "axis": {"orient": "left", "title": "Vaccine Hesitancy",
            "values": [0.05,0.06,0.07,0.08,0.09,0.1,0.11,0.12,0.13,0.14,0.15,0.16,0.17,0.18,0.19,0.2,0.21,0.22,0.23,0.24,0.25,0.26,0.27,0.28,0.29,0.3,0.31,0.32,0.33],
            "labelExpr": "abs(datum.value*20 - round(datum.value*20)) < 0.001 ? format(datum.value, '.1%') : ''",
            "tickSize": {"condition": {"test": "abs(datum.value*20 - round(datum.value*20)) < 0.001", "value": -6}, "value": -3},
            "gridOpacity": {"condition": {"test": "abs(datum.value*20 - round(datum.value*20)) < 0.001", "value": 1}, "value": 0},
            "grid": true, "labelPadding": 13, "titlePadding": 10}}
      }
    },
    {
      "data": {"name": "fit"},
      "mark": {"type": "area", "color": "#7ea6f6", "opacity": 0.15},
      "encoding": {
        "x": {"field": "r", "type": "quantitative", "axis": null},
        "y": {"field": "lo", "type": "quantitative", "axis": null},
        "y2": {"field": "hi"}
      }
    },
    {
      "data": {"name": "fit"},
      "mark": {"type": "line", "color": "#7ea6f6", "strokeWidth": 3},
      "encoding": {
        "x": {"field": "r", "type": "quantitative",
          "scale": {"domain": [-0.0475, 0.983], "nice": false, "zero": false},
          "axis": {"orient": "top", "title": null, "labels": false, "grid": false,
            "values": [0,0.05,0.1,0.15,0.2,0.25,0.3,0.35,0.4,0.45,0.5,0.55,0.6,0.65,0.7,0.75,0.8,0.85,0.9,0.95],
            "tickSize": {"condition": {"test": "abs(datum.value*4 - round(datum.value*4)) < 0.001", "value": -6}, "value": -3}}},
        "y": {"field": "m", "type": "quantitative",
          "scale": {"domain": [0.0413, 0.337], "nice": false, "zero": false},
          "axis": {"orient": "right", "title": null, "labels": false, "grid": false,
            "values": [0.05,0.06,0.07,0.08,0.09,0.1,0.11,0.12,0.13,0.14,0.15,0.16,0.17,0.18,0.19,0.2,0.21,0.22,0.23,0.24,0.25,0.26,0.27,0.28,0.29,0.3,0.31,0.32,0.33],
            "tickSize": {"condition": {"test": "abs(datum.value*20 - round(datum.value*20)) < 0.001", "value": -6}, "value": -3}}}
      }
    }
  ]
}
]
}
